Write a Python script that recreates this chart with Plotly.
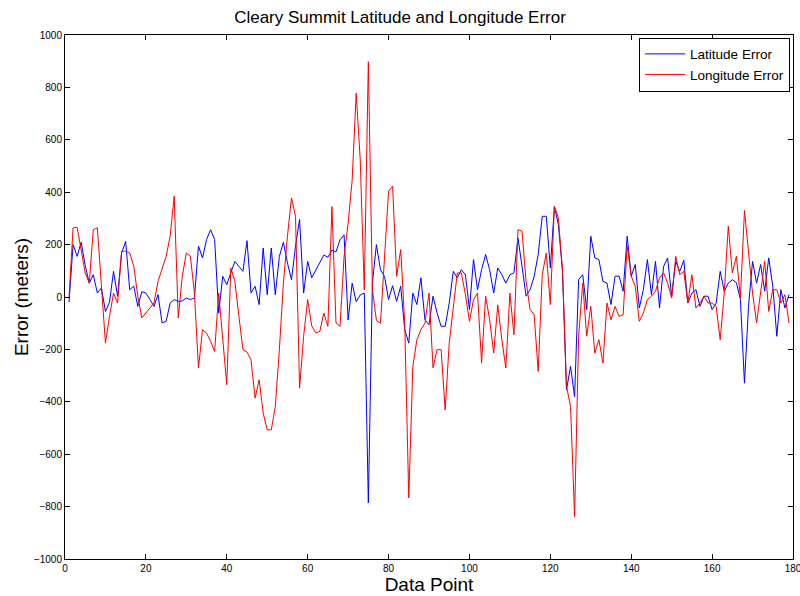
import plotly.graph_objects as go

data_point = list(range(1, 180))

latitude_error = [
    -20, 200, 155, 209, 120, 53, 85, 15, 35, -55,
    -20, 98, 3, 168, 212, 28, 41, -36, 20, 15,
    -10, -36, 9, -99, -93, -23, -10, -17, -15, -4,
    -10, -4, 194, 149, 219, 257, 219, -61, 79, 47,
    92, 136, 117, 98, 215, 15, 41, -29, 187, 9,
    187, 9, 155, 209, 130, 66, 194, 296, 15, 136,
    73, 103, 128, 160, 152, 179, 172, 218, 237, -88,
    53, -18, 8, 15, -786, 53, 200, 104, 79, -10,
    43, -17, 41, -125, -176, 15, -29, 73, -87, -106,
    3, -61, -112, -112, -23, 98, 73, 104, 85, -48,
    143, 28, 104, 162, 104, 15, 111, 85, 53, 85,
    92, 225, 117, 3, 28, 79, 162, 308, 308, 111,
    346, 276, 100, -354, -265, -380, 66, 85, -48, 232,
    149, 143, 60, 53, -29, 79, 80, 22, 232, 79,
    124, -42, 28, 143, 9, 136, -42, 117, 149, 3,
    136, 98, 140, -23, 15, 28, -36, 3, 3, -48,
    -23, 98, 22, 53, 66, 55, -10, -329, -36, 136,
    53, 124, 22, 149, 41, -150, 28, -42, 9,
]

longitude_error = [
    0, 264, 266, 180, 92, 53, 257, 264, 53, -176,
    -74, 15, -23, 175, 175, 168, 117, 3, -80, -61,
    -42, -23, 60, 104, 155, 232, 385, -80, 79, 168,
    155, 15, -271, -125, -138, -169, -208, 15, -150, -335,
    111, 60, -74, -201, -210, -240, -386, -316, -443, -507,
    -507, -418, -201, 53, 232, 378, 308, -348, -150, -10,
    -110, -137, -131, -61, -112, 345, -99, -112, 154, 282,
    446, 778, 523, 27, 898, 30, -90, -100, 150, 404,
    423, 79, 181, -100, -767, -265, -163, -125, -100, 15,
    -270, -201, -201, -431, -176, -48, 92, 92, 9, -93,
    -10, 15, -252, 3, -87, -214, -30, -163, -271, 15,
    -144, 257, 251, 60, -48, -67, -284, 85, 168, -29,
    346, 300, 104, -341, -418, -838, -150, 53, -150, -36,
    -214, -163, -252, -23, -87, -36, -74, -67, 194, 79,
    41, -93, -61, -10, 3, 22, 73, 92, 53, -4,
    155, 85, 98, -23, 85, -42, -23, 3, -23, -23,
    -36, -163, 15, 270, 92, 155, -4, 330, 181, 15,
    -99, 15, 136, -55, 28, 28, -23, 9, -99,
]

x_ticks = list(range(0, 181, 20))
y_ticks = list(range(-1000, 1001, 200))

font_family = "Arial, Liberation Sans, sans-serif"

fig = go.Figure()
fig.add_trace(go.Scatter(x=data_point, y=latitude_error, mode="lines",
                         name="Latitude Error",
                         line=dict(color="rgb(0,0,255)", width=1)))
fig.add_trace(go.Scatter(x=data_point, y=longitude_error, mode="lines",
                         name="Longitude Error",
                         line=dict(color="rgb(255,0,0)", width=1)))

axis_common = dict(
    showline=True, linecolor="black", linewidth=1, mirror="ticks",
    ticks="inside", ticklen=5, tickcolor="black",
    showgrid=False, zeroline=False, ticklabeloverflow="allow",
    tickfont=dict(family=font_family, size=10, color="black"),
)

fig.update_layout(
    width=800, height=596,
    margin=dict(l=65, r=7, t=35, b=37, autoexpand=False),
    paper_bgcolor="white", plot_bgcolor="white",
    title=dict(text="Cleary Summit Latitude and Longitude Error",
               x=0.5, xanchor="center", y=0.972, yanchor="middle",
               font=dict(family=font_family, size=17, color="black")),
    xaxis=dict(range=[0, 180], tickvals=x_ticks,
               title=dict(text="Data Point", standoff=4,
                          font=dict(family=font_family, size=19, color="black")),
               **axis_common),
    yaxis=dict(range=[-1000, 1000], tickvals=y_ticks,
               title=dict(text="Error (meters)", standoff=0,
                          font=dict(family=font_family, size=19, color="black")),
               **axis_common),
    legend=dict(x=0.996, y=0.995, xanchor="right", yanchor="top",
                bgcolor="white", bordercolor="black", borderwidth=1,
                font=dict(family=font_family, size=13.5, color="black"),
                tracegroupgap=0, itemwidth=40),
    showlegend=True,
)

fig.write_html("out.html")
